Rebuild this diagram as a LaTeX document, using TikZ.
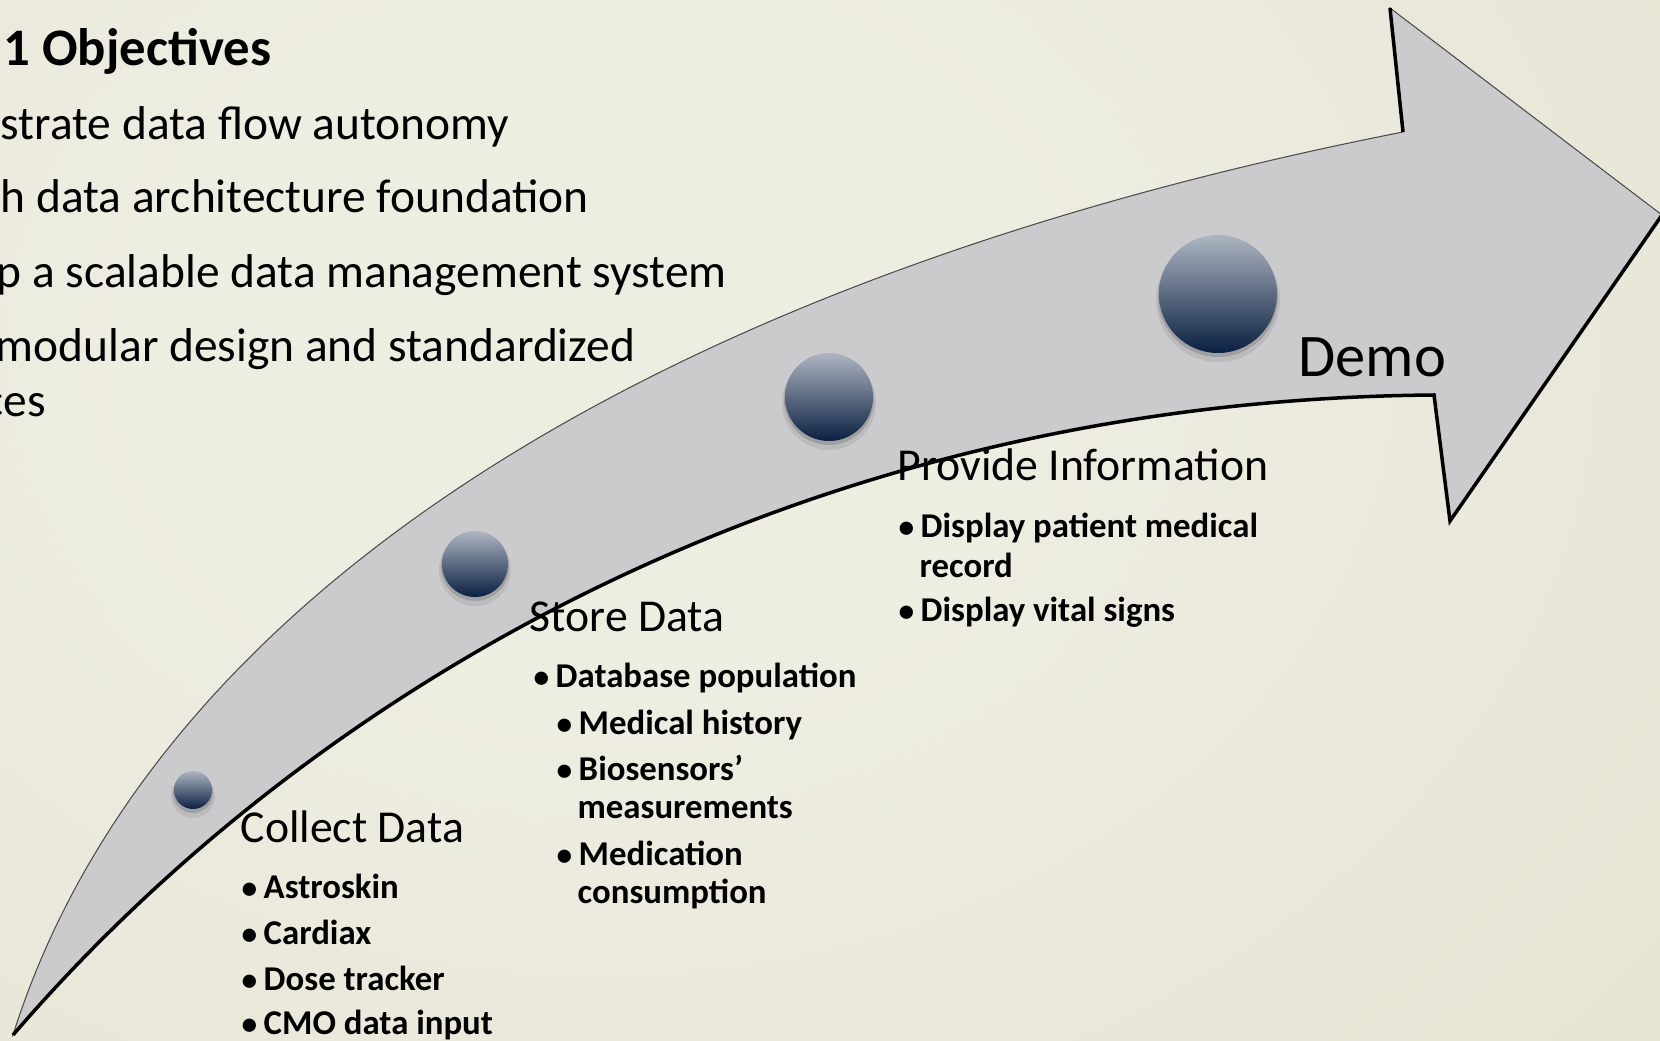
\documentclass[tikz,border=0pt]{standalone}
\usepackage{fontspec}
\setmainfont{Carlito}
\definecolor{bglight}{HTML}{EEEDE2}
\definecolor{bgmid}{HTML}{E7E4D3}
\definecolor{bgdark}{HTML}{DCD6BE}
\definecolor{arrowgray}{HTML}{CBCBCE}
\definecolor{balltop}{HTML}{AEB5C2}
\definecolor{ballbot}{HTML}{0A2041}
\pgfdeclareradialshading{bgshade}{\pgfpoint{0bp}{0bp}}{color(0bp)=(bglight); color(8bp)=(bglight); color(24bp)=(bgmid); color(50bp)=(bgdark)}
\tikzset{
  heading/.style={anchor=base west, inner sep=0pt, font=\fontsize{13}{15}\selectfont},
  objline/.style={anchor=base west, inner sep=0pt, font=\fontsize{13.5}{16}\selectfont},
  itemline/.style={anchor=base west, inner sep=0pt, font=\fontsize{9.9}{12}\selectfont\bfseries},
  thickedge/.style={line width=1pt, black, line join=miter},
  dotball/.style={top color=balltop, bottom color=ballbot},
}
\newcommand{\bul}{\makebox[5.7pt][l]{\hspace{-0.6pt}\scalebox{0.9}{•}}}

\begin{document}
\begin{tikzpicture}[x=0.1mm, y=-0.1mm]
            \useasboundingbox (0,0) rectangle (1660,1041);
            \clip (0,0) rectangle (1660,1041);
            % Background
            \shade[shading=bgshade] (-800,-750) rectangle (2000,1450);

            % Arrow corners
            \path (13,1035) coordinate (T);
            \path (1403,132) coordinate (U);
            \path (1390,8) coordinate (H1);
            \path (1662,215) coordinate (Tip);
            \path (1450,521) coordinate (H2);
            \path (1434,395) coordinate (L);

            % Arrow
            \fill[arrowgray, draw=black!70, line width=0.3pt] (T) .. controls (150,600) and (650,280) .. (U) -- (H1) -- (Tip) -- (H2) -- (L) .. controls (800,400) and (310,690) .. (T) -- cycle;
            \draw[thickedge] (U) -- (H1);
            \draw[thickedge] (Tip) -- (H2) -- (L) .. controls (800,400) and (310,690) .. (T);

            % Balls
            \foreach \x/\y/\r/\nm in {193/790/19/b1, 475/564/33/b2, 829/397/44/b3, 1218/294/59/b4} {
                \fill[black, opacity=0.08] (\x,\y+6) circle (\r+3);
                \fill[black, opacity=0.14] (\x,\y+3) circle (\r+1);
                \shade[dotball] (\x,\y) circle (\r);
                \path (\x,\y) coordinate (\nm);
            }

            % Objectives
            \node[anchor=base west, inner sep=0pt, font=\fontsize{15}{18}\selectfont\bfseries] (title) at (3,66) {1 Objectives};
            \node[objline] (objA) at (0,139) {strate data flow autonomy};
            \node[objline] (objB) at (0,213) {h data architecture foundation};
            \node[objline] (objC) at (-4,287) {p a scalable data management system};
            \node[objline] (objD) at (-5,361) {modular design and standardized};
            \node[objline] (objE) at (-17,416) {ces};

            % Collect
            \node[heading] (collect) at (240,842) {Collect Data};
            \node[itemline] (c1) at (243,898) {\bul Astroskin};
            \node[itemline] (c2) at (243,944) {\bul Cardiax};
            \node[itemline] (c3) at (243,990) {\bul Dose tracker};
            \node[itemline] (c4) at (243,1034) {\bul CMO data input};

            % Store
            \node[heading] (store) at (529,631) {Store Data};
            \node[itemline] (s1) at (535,687) {\bul Database population};
            \node[itemline] (s2) at (558,734) {\bul Medical history};
            \node[itemline] (s3) at (558,780) {\bul Biosensors’};
            \node[itemline] (s3b) at (577,818) {measurements};
            \node[itemline] (s4) at (558,865) {\bul Medication};
            \node[itemline] (s4b) at (577,903) {consumption};

            % Provide
            \node[heading] (provide) at (897,480) {Provide Information};
            \node[itemline] (p1) at (900,537) {\bul Display patient medical};
            \node[itemline] (p1b) at (919,577) {record};
            \node[itemline] (p2) at (900,621) {\bul Display vital signs};

            % Demo
            \node[anchor=base west, inner sep=0pt, font=\fontsize{17.2}{20}\selectfont] (demo) at (1298,376) {Demo};
\end{tikzpicture}
\end{document}
